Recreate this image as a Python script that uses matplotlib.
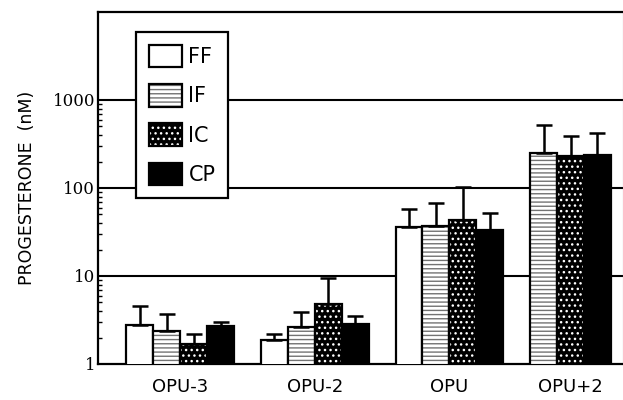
import numpy as np
import matplotlib
matplotlib.use("Agg")
import matplotlib.pyplot as plt
from matplotlib.patches import Patch
from matplotlib.ticker import FixedLocator, NullFormatter

# ---- data ----
groups = ["OPU-3", "OPU-2", "OPU", "OPU+2"]
series = ["FF", "IF", "IC", "CP"]
ff_mean = [2.78, 1.88, 35.8, np.nan]
ff_top = [4.62, 2.2, 58.0, np.nan]
if_mean = [2.38, 2.62, 36.8, 248.0]
if_top = [3.69, 3.88, 67.3, 526.0]
ic_mean = [1.69, 4.83, 43.0, 233.0]
ic_top = [2.2, 9.5, 103.0, 385.0]
cp_mean = [2.73, 2.84, 33.7, 240.0]
cp_top = [3.01, 3.53, 52.3, 420.0]
y_ticks = [1, 10, 100, 1000]
y_ticklabels = ["1", "10", "100", "1000"]

# ---- layout ----
group_pos = np.array([3.0, 8.0, 13.0, 17.5])
bw = 1.0

fig = plt.figure(figsize=(6.23, 4.0), dpi=100)
ax = fig.add_axes([98/623, 36/400, 525/623, 352/400])
ax.set_yscale("log")
ax.set_ylim(1, 10000)
ax.set_xlim(-0.05, 19.45)

means = [ff_mean, if_mean, ic_mean, cp_mean]
tops = [ff_top, if_top, ic_top, cp_top]

styles = {
    "FF": dict(fc="white", hatch=None, hc=None),
    "IF": dict(fc="white", hatch="----", hc="0.45"),
    "IC": dict(fc="black", hatch="...", hc="white"),
    "CP": dict(fc="black", hatch=None, hc=None),
}

for si, name in enumerate(series):
    m = np.array(means[si], dtype=float)
    t = np.array(tops[si], dtype=float)
    xs = []
    for gi in range(len(groups)):
        if np.isnan(ff_mean[gi]):
            xs.append(group_pos[gi] + (si - 2) * bw)
        else:
            xs.append(group_pos[gi] + (si - 1.5) * bw)
    xs = np.array(xs)
    ok = ~np.isnan(m)
    st = styles[name]
    if st["hatch"]:
        ax.bar(xs[ok], m[ok], width=bw, bottom=0, facecolor=st["fc"], edgecolor=st["hc"],
               hatch=st["hatch"], linewidth=0, zorder=3)
        ax.bar(xs[ok], m[ok], width=bw, fill=False, edgecolor="black", linewidth=1.6, zorder=4)
    else:
        ax.bar(xs[ok], m[ok], width=bw, facecolor=st["fc"], edgecolor="black", linewidth=1.6, zorder=3)
    ax.errorbar(xs[ok], m[ok], yerr=[np.zeros(ok.sum()), (t - m)[ok]], fmt="none",
                ecolor="black", elinewidth=1.8, capsize=5.5, capthick=1.8, zorder=5)

# grid
for g in [10, 100, 1000]:
    ax.axhline(g, color="black", linewidth=1.5, zorder=1)

for sp in ax.spines.values():
    sp.set_linewidth(1.6)
ax.spines["right"].set_linewidth(0.8)
ax.spines["right"].set_color("0.6")

ax.set_yticks(y_ticks)
ax.set_yticklabels(y_ticklabels, family="DejaVu Serif", fontsize=12)
minors = [k * 10**e for e in range(0, 3) for k in range(2, 10)]
ax.yaxis.set_minor_locator(FixedLocator(minors))
ax.yaxis.set_minor_formatter(NullFormatter())
ax.tick_params(axis="y", which="major", direction="in", length=4, width=1.2, pad=2)
ax.tick_params(axis="y", which="minor", direction="in", length=3, width=1.0)
ax.tick_params(axis="y", right=False)

ax.set_xticks(group_pos)
ax.set_xticklabels(groups, fontsize=13)
ax.tick_params(axis="x", length=0, pad=10)

ax.set_ylabel("PROGESTERONE  (nM)", fontsize=12.5, labelpad=12)

# legend
h_ff = Patch(facecolor="white", edgecolor="black", linewidth=1.6)
h_if = (Patch(facecolor="white", edgecolor="0.45", hatch="----", linewidth=0),
        Patch(fill=False, edgecolor="black", linewidth=1.6))
h_ic = (Patch(facecolor="black", edgecolor="white", hatch="...", linewidth=0),
        Patch(fill=False, edgecolor="black", linewidth=1.6))
h_cp = Patch(facecolor="black", edgecolor="black", linewidth=1.6)
leg = ax.legend([h_ff, h_if, h_ic, h_cp], series, loc="upper left",
                bbox_to_anchor=(0.073, 0.943), fontsize=15, handlelength=1.6,
                handleheight=1.3, labelspacing=0.8, handletextpad=0.3,
                borderpad=0.6, borderaxespad=0, fancybox=False, framealpha=1,
                edgecolor="black")
leg.get_frame().set_linewidth(1.6)
leg.set_zorder(10)

fig.savefig("out.png", dpi=100)
